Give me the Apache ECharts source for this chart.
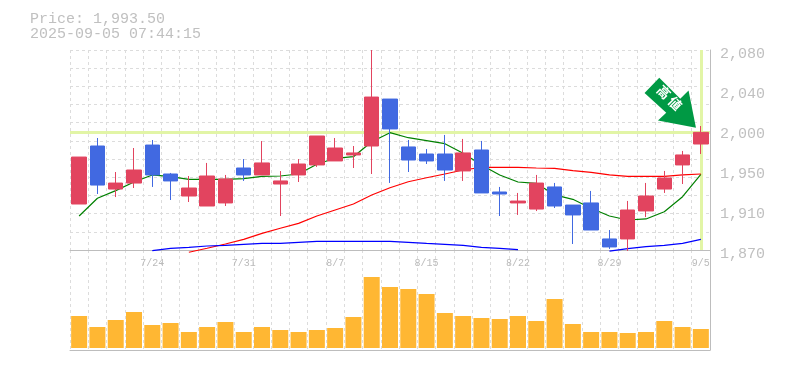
<!DOCTYPE html>
<html><head><meta charset="utf-8">
<style>html,body{margin:0;padding:0;background:#fff}#c{width:785px;height:370px}</style>
<script src="https://cdn.jsdelivr.net/npm/echarts@6/dist/echarts.min.js"></script>
</head><body><div id="c"></div>
<script>
const priceText = 'Price: 1,993.50';
const timeText = '2025-09-05 07:44:15';
const arrowText = '高値';
const categories = ['7/17','7/18','7/22','7/23','7/24','7/25','7/28','7/29','7/30','7/31','8/1','8/4','8/5','8/6','8/7','8/8','8/12','8/13','8/14','8/15','8/18','8/19','8/20','8/21','8/22','8/25','8/26','8/27','8/28','8/29','9/1','9/2','9/3','9/4','9/5'];
const xTickLabels = ['7/24','7/31','8/7','8/15','8/22','8/29','9/5'];
const yTickLabels = ['1,870','1,910','1,950','2,000','2,040','2,080'];
const opens  = [1918.3,1979.2,1934.0,1940.3,1980.2,1949.8,1926.7,1916.2,1919.4,1956.1,1948.8,1939.3,1948.8,1959.3,1963.5,1969.8,1979.2,2028.5,1978.2,1970.8,1970.8,1953.0,1975.0,1930.9,1919.4,1913.0,1936.2,1917.2,1919.4,1881.6,1881.6,1911.0,1934.0,1959.3,1981.3];
const closes = [1967.6,1938.2,1940.3,1954.0,1948.8,1942.5,1935.1,1947.7,1944.6,1948.8,1961.4,1942.5,1960.3,1989.7,1977.1,1971.9,2030.6,1997.1,1964.5,1963.5,1954.0,1971.9,1929.9,1928.8,1921.4,1940.3,1916.2,1906.8,1891.0,1873.2,1912.0,1926.7,1945.6,1969.8,1993.5];
const lows   = [1918.3,1928.8,1925.6,1935.1,1936.2,1922.5,1920.4,1916.2,1916.2,1942.5,1948.8,1905.7,1941.4,1957.2,1963.5,1956.1,1949.8,1940.4,1951.9,1960.3,1942.5,1942.5,1929.9,1905.7,1906.8,1910.9,1914.1,1876.3,1891.0,1871.1,1869.0,1904.6,1929.9,1939.3,1970.8];
const highs  = [1967.6,1987.6,1951.9,1977.1,1985.5,1950.9,1947.7,1961.4,1948.8,1965.5,1984.4,1952.9,1965.5,1989.7,1987.6,1979.2,2080.0,2028.5,1985.5,1976.0,1990.8,1986.6,1984.5,1936.2,1929.9,1948.8,1940.4,1917.2,1932.0,1891.0,1921.5,1940.4,1953.0,1974.0,2000.2];
const maShort = [1905.7,1924.3,1932.3,1941.4,1948.8,1947.0,1944.2,1944.2,1944.2,1944.9,1947.4,1947.7,1949.8,1960.0,1966.3,1968.0,1983.7,1993.2,1987.9,1984.8,1981.6,1971.5,1959.3,1948.8,1941.4,1940.0,1927.8,1923.2,1913.8,1905.7,1901.5,1902.6,1910.2,1926.0,1949.5];
const maMid = [null,null,null,null,null,null,1867.6,1871.8,1876.3,1881.2,1887.5,1892.8,1898.0,1905.7,1912.0,1918.3,1927.8,1935.4,1941.7,1945.9,1949.8,1954.0,1956.8,1956.8,1956.8,1956.1,1955.8,1953.3,1951.6,1948.8,1947.4,1947.4,1947.4,1948.8,1949.8];
const maLong = [null,null,null,null,1869.3,1871.8,1872.8,1874.2,1874.9,1876.0,1877.0,1877.0,1878.1,1879.1,1879.1,1879.1,1879.1,1879.1,1878.1,1877.0,1876.0,1874.9,1872.8,1871.8,1870.3,null,null,null,null,1868.9,1871.4,1873.5,1874.9,1877.0,1881.2];
const volumes = [32,21,28,36,23,25,16,21,26,16,21,18,16,18,20,31,71,61,59,54,35,32,30,29,32,27,49,24,16,16,15,16,27,21,19];

const grey = '#bdbdbd', gridGrey = '#dcdcdc', mono = '"Liberation Mono", monospace';
const gridLine = {show:true, interval:0, lineStyle:{color:gridGrey, width:1, type:[3,3]}};
const last = categories.length - 1;
const maLine = (data, color) => ({type:'line', data, xAxisIndex:0, yAxisIndex:0, showSymbol:false, symbol:'none', z:3, clip:false, silent:true, connectNulls:false, lineStyle:{color, width:1.2}});

const chart = echarts.init(document.getElementById('c'), null, {renderer:'canvas'});
chart.setOption({
  animation:false, backgroundColor:'#fff',
  title:{text:priceText + '\n' + timeText, left:25, top:7, textStyle:{fontFamily:mono, fontSize:15, fontWeight:'normal', color:'#c0c0c0', lineHeight:15}},
  grid:[{left:70, right:75, top:50, height:200},{left:70, right:75, top:250, height:100},{left:70, right:75, top:53.7, height:200}],
  xAxis:[
    {type:'category', gridIndex:0, data:categories, boundaryGap:true, axisTick:{show:false},
     axisLine:{show:true, lineStyle:{color:grey, width:1}}, splitLine:gridLine,
     axisLabel:{interval:0, margin:8, fontFamily:mono, fontSize:10, color:'#bbb', hideOverlap:false, formatter:v => xTickLabels.includes(v) ? v : ''}},
    {type:'category', gridIndex:1, data:categories, boundaryGap:true, axisTick:{show:false},
     axisLine:{show:true, onZero:false, lineStyle:{color:grey, width:1}}, splitLine:gridLine, axisLabel:{show:false}},
    {type:'category', gridIndex:2, data:categories, show:false}
  ],
  yAxis:[
    {type:'value', gridIndex:0, min:1870, max:2080, position:'right', axisLine:{show:true, lineStyle:{color:grey, width:1}}, axisTick:{show:false}, axisLabel:{show:false}, splitLine:{show:false}},
    {type:'value', gridIndex:2, min:0, max:5, interval:1, position:'right', axisLine:{show:false}, axisTick:{show:false}, splitLine:{show:false},
     axisLabel:{show:true, margin:10, fontFamily:mono, fontSize:15, color:'#c0c0c0', formatter:(v) => yTickLabels[v]}},
    {type:'value', gridIndex:0, min:0, max:11, interval:1, position:'left', axisLine:{show:false}, axisTick:{show:false}, axisLabel:{show:false}, splitLine:{show:true, lineStyle:{color:gridGrey, width:1, type:[3,3]}}},
    {type:'value', gridIndex:1, min:-2, max:98, position:'right', axisLine:{show:true, onZero:false, lineStyle:{color:grey, width:1}}, axisTick:{show:false}, axisLabel:{show:false}, splitLine:{show:false}}
  ],
  series:[
    {type:'line', data:categories.map(() => null), xAxisIndex:0, yAxisIndex:0, z:1, silent:true,
     markLine:{silent:true, symbol:'none', z:1, label:{show:false}, lineStyle:{color:'#e2f5a6', width:3, type:'solid'}, animation:false,
       data:[{yAxis:closes[last]},{xAxis:categories[last]}]}},
    maLine(maShort,'#008000'), maLine(maMid,'#ff0000'), maLine(maLong,'#0000ff'),
    {type:'candlestick', xAxisIndex:0, yAxisIndex:0, z:5, barWidth:15, silent:true,
     data:categories.map((c,i) => [opens[i], closes[i], lows[i], highs[i]]),
     itemStyle:{color:'#e2445f', color0:'#4169e1', borderColor:'#e2445f', borderColor0:'#4169e1', borderWidth:1}},
    {type:'bar', xAxisIndex:1, yAxisIndex:3, data:volumes, barWidth:16, silent:true, itemStyle:{color:'#ffb733'}},
    {type:'line', data:categories.map(() => null), xAxisIndex:0, yAxisIndex:0, z:8, silent:true,
     markPoint:{silent:true, z:8, animation:false,
       symbol:'path://M14.7 0 L35.7 21 L44 12.7 L51.4 50 L13.4 42.7 L21.7 35 L0 15.4 Z',
       symbolSize:[51.4,50], symbolKeepAspect:false, symbolOffset:[-30.6,-29.7],
       itemStyle:{color:'#009944'},
       label:{show:true, formatter:arrowText.split('').join(' '), position:'inside', rotate:-45, offset:[-4,-3], color:'#fff', fontFamily:'"Noto Sans CJK JP", sans-serif', fontSize:13, fontWeight:'bold'},
       data:[{coord:[categories[last], closes[last]]}]}}
  ]
});
</script></body></html>
